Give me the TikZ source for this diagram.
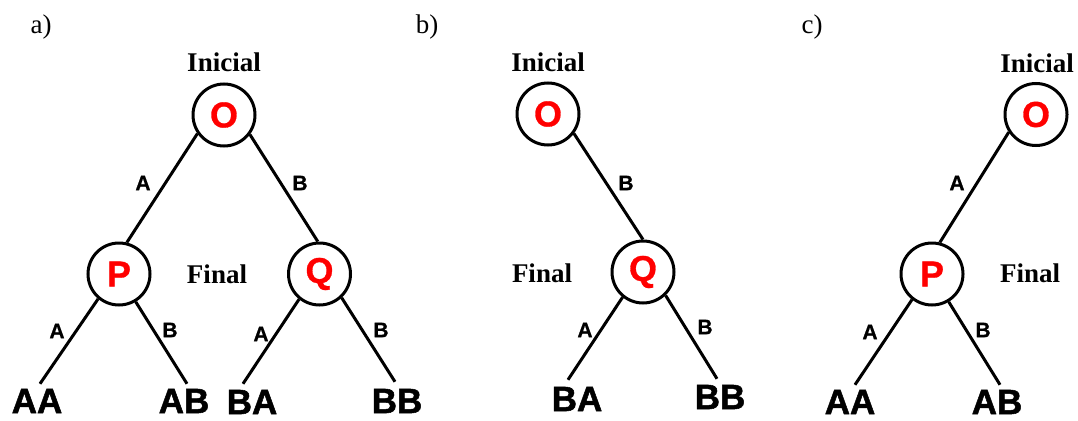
\documentclass[tikz,border=0pt]{standalone}
\usepackage{fontspec}
\setmainfont{Liberation Serif}
\newfontfamily\arialf[FakeBold=1.5]{Liberation Sans Bold}
\newfontfamily\arialg[FakeBold=0.8]{Liberation Sans Bold}
\begin{document}
\begin{tikzpicture}[x=1pt,y=-1pt,
  state/.style={circle,draw,line width=3pt,minimum size=62pt,inner sep=0pt,
    font=\arialg\fontsize{36}{36}\selectfont,text=red},
  leaf/.style={inner sep=1pt,font=\arialf\fontsize{35}{35}\selectfont},
  elabel/.style={inner sep=0pt,font=\arialg\fontsize{21}{21}\selectfont},
  tag/.style={inner sep=0pt,font=\bfseries\fontsize{27}{27}\selectfont},
  panel/.style={inner sep=0pt,font=\fontsize{27}{27}\selectfont},
  edge/.style={line width=3pt}]
\useasboundingbox (0,0) rectangle (1078,420);

% ---------- panel a ----------
\node[panel] (la) at (41,27) {a)};
\node[tag] (ia) at (224,62) {Inicial};
\node[state] (Oa) at (224,115) {O};
\node[state] (Pa) at (119,274) {P};
\node[state] (Qa) at (319.5,274) {Q};
\node[tag] (fa) at (217,274) {Final};
\node[leaf] (AAa) at (37,401) {AA};
\node[leaf] (ABa) at (184,401) {AB};
\node[leaf] (BAa) at (252,402) {BA};
\node[leaf] (BBa) at (397,401) {BB};
\node[elabel] (eA1) at (143,183) {A};
\node[elabel] (eB1) at (300,183) {B};
\node[elabel] (eA2) at (57,331) {A};
\node[elabel] (eB2) at (170,330) {B};
\node[elabel] (eA3) at (261,334) {A};
\node[elabel] (eB3) at (381,330) {B};
\draw[edge] (Oa.215) -- (Pa.76);
\draw[edge] (Oa.323) -- (Qa.93);
\draw[edge] (Pa.230) -- ([xshift=3pt,yshift=4pt]AAa.north);
\draw[edge] (Pa.301) -- ([xshift=3pt,yshift=4pt]ABa.north);
\draw[edge] (Qa.231) -- ([xshift=-9pt,yshift=5pt]BAa.north);
\draw[edge] (Qa.313) -- ([xshift=-2pt,yshift=6pt]BBa.north);

% ---------- panel b ----------
\node[panel] (lb) at (427,27) {b)};
\node[tag] (ib) at (548,62) {Inicial};
\node[state] (Ob) at (548,114) {O};
\node[state] (Qb) at (643,272) {Q};
\node[tag] (fb) at (542,273) {Final};
\node[leaf] (BAb) at (577,399) {BA};
\node[leaf] (BBb) at (720,397) {BB};
\node[elabel] (eB4) at (626,183) {B};
\node[elabel] (eA5) at (585,330) {A};
\node[elabel] (eB5) at (705,327) {B};
\draw[edge] (Ob.323) -- (Qb.90);
\draw[edge] (Qb.231) -- ([xshift=-9pt,yshift=6pt]BAb.north);
\draw[edge] (Qb.314) -- ([xshift=-3pt,yshift=5pt]BBb.north);

% ---------- panel c ----------
\node[panel] (lc) at (812,27) {c)};
\node[tag] (ic) at (1037,63) {Inicial};
\node[state] (Oc) at (1036,114.5) {O};
\node[state] (Pc) at (932,274) {P};
\node[tag] (fc) at (1030,273) {Final};
\node[leaf] (AAc) at (850,402) {AA};
\node[leaf] (ABc) at (997,402) {AB};
\node[elabel] (eA6) at (957,183) {A};
\node[elabel] (eA7) at (870,332) {A};
\node[elabel] (eB7) at (983,330) {B};
\draw[edge] (Oc.213) -- (Pc.76);
\draw[edge] (Pc.232) -- ([xshift=5pt,yshift=4pt]AAc.north);
\draw[edge] (Pc.301) -- ([xshift=3pt,yshift=4pt]ABc.north);
\end{tikzpicture}
\end{document}
